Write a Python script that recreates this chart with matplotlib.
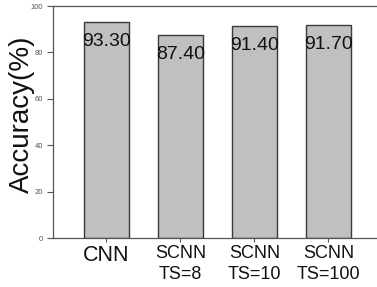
import matplotlib
matplotlib.use("Agg")
import matplotlib.pyplot as plt

categories = ["CNN", "SCNN\nTS=8", "SCNN\nTS=10", "SCNN\nTS=100"]
accuracy = [93.30, 87.40, 91.40, 91.70]
yticks = [0, 20, 40, 60, 80, 100]

plt.rcParams['font.family'] = ['Liberation Sans', 'DejaVu Sans']

fig = plt.figure(figsize=(3.77, 2.87), dpi=100)
ax = fig.add_axes([0.1406, 0.1707, 0.8594, 0.8083])

x = list(range(len(categories)))
ax.bar(x, accuracy, width=0.61, color='#c0c0c0', edgecolor='#3a3a3a', linewidth=1.0)

for xi, v in zip(x, accuracy):
    ax.text(xi, v - 4.8, f"{v:.2f}", ha='center', va='top', fontsize=14, color='#111111')

ax.set_xlim(-0.72, 3.655)
ax.set_ylim(0, 100)
ax.set_yticks(yticks)
ax.set_yticklabels([str(t) for t in yticks], fontsize=5.5, color='#555555')
ax.set_xticks(x)
ax.set_xticklabels(categories, fontsize=13, color='#111111', linespacing=1.3)
ax.get_xticklabels()[0].set_fontsize(15.5)

ax.tick_params(axis='y', length=4, width=0.8, color='#555555', pad=3)
ax.tick_params(axis='x', length=3, width=0.8, color='#555555', pad=2)

for s in ['left', 'top', 'bottom']:
    ax.spines[s].set_color('#555555')
    ax.spines[s].set_linewidth(0.9)
ax.spines['right'].set_visible(False)

ax.set_ylabel("Accuracy(%)", fontsize=20, color='#111111')
ax.yaxis.set_label_coords(-0.057, 0.535)

fig.savefig("out.png", dpi=100)
